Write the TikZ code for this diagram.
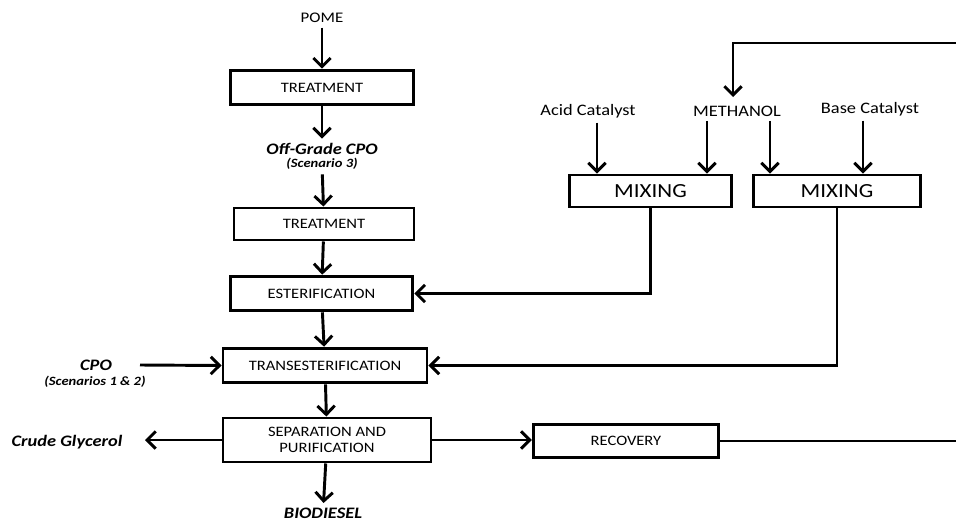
\documentclass[tikz,border=0pt]{standalone}
\usepackage{fontspec}
\setmainfont[FakeStretch=1.15]{Carlito}
\usetikzlibrary{arrows.meta,positioning}

\tikzset{
  stage/.style={draw, line width=2.2pt, inner sep=0pt, align=center, font=\fontsize{10.8}{12.5}\selectfont},
  flow/.style={line width=2.2pt, -{Straight Barb[length=6.5pt,width=13pt]}},
  pipe/.style={line width=1.7pt},
  feed/.style={font=\fontsize{12}{14}\selectfont},
  product/.style={font=\bfseries\itshape\fontsize{12}{14}\selectfont},
  note/.style={font=\bfseries\itshape\fontsize{9.5}{11}\selectfont}
}

\begin{document}
\begin{tikzpicture}[x=0.75pt, y=-0.75pt]
    \useasboundingbox (0,0) rectangle (956,521);
    \clip (0,0) rectangle (956,521);

    % main line
    \node[font=\fontsize{11}{13}\selectfont] (pome) at (322,18) {POME};
    \node[stage, minimum width=137pt, minimum height=26pt] (treat1) at (322,87.5) {TREATMENT};
    \node[product] (offcpo) at (322,149) {Off-Grade CPO};
    \node[note] (scen3) at (322,164) {(Scenario 3)};
    \node[stage, minimum width=135pt, minimum height=24pt] (treat2) at (324,224) {TREATMENT};
    \node[stage, minimum width=137pt, minimum height=26pt] (ester) at (321.5,293.5) {ESTERIFICATION};
    \node[stage, minimum width=153pt, minimum height=26pt] (trans) at (325,365.5) {TRANSESTERIFICATION};
    \node[stage, minimum width=156pt, minimum height=33pt] (sep) at (327,440) {SEPARATION AND\\PURIFICATION};
    \node[product] (biod) at (323,513) {BIODIESEL};

    % side streams
    \node[product] (cpo) at (96,365) {CPO};
    \node[note] (scen12) at (95,382) {(Scenarios 1 \& 2)};
    \node[product] (glyc) at (67,442) {Crude Glycerol};
    \node[stage, minimum width=139pt, minimum height=25pt] (recov) at (626,441) {RECOVERY};

    % catalyst preparation
    \node[feed] (acid) at (588,111) {Acid Catalyst};
    \node[feed] (meoh) at (737,111) {METHANOL};
    \node[feed] (base) at (870,109) {Base Catalyst};
    \node[stage, minimum width=122pt, minimum height=24pt, font=\fontsize{15}{17}\selectfont] (mixA) at (650.5,191) {MIXING};
    \node[stage, minimum width=125pt, minimum height=24pt, font=\fontsize{15}{17}\selectfont] (mixB) at (837,191) {MIXING};

    \coordinate (cpoS) at (140,365);
    \coordinate (glycE) at (145,440);
    \coordinate (loopB) at (960,441);
    \coordinate (loopT) at (960,43);
    \coordinate (meohIn) at (733,97);

    % arrows
    \draw[flow] (pome) -- (treat1);
    \draw[flow] (treat1) -- (offcpo);
    \draw[flow] (scen3) -- (treat2);
    \draw[flow] (treat2) -- (ester);
    \draw[flow] (ester) -- (trans);
    \draw[flow] (trans) -- (sep);
    \draw[flow] (sep) -- (biod);
    \draw[flow] (cpoS) -- (trans.west);
    \draw[flow] (sep.west) -- (glycE);
    \draw[flow] (sep.east) -- (sep.east -| recov.west);

    \draw[flow] ([xshift=6.75pt]acid.south) -- ([xshift=6.75pt]acid.south |- mixA.north);
    \draw[flow] ([xshift=-22.5pt]meoh.south) -- ([xshift=-22.5pt]meoh.south |- mixA.north);
    \draw[flow] ([xshift=24.75pt]meoh.south) -- ([xshift=24.75pt]meoh.south |- mixB.north);
    \draw[flow] ([xshift=-5.25pt]base.south) -- ([xshift=-5.25pt]base.south |- mixB.north);

    \draw[flow] (mixA.south) |- (ester.east);
    \draw[flow] (mixB.south) |- (trans.east);

    % methanol recycle
    \draw[pipe] (recov.east) -- (loopB) -- (loopT);
    \draw[flow] (loopT) -| (meohIn);
\end{tikzpicture}
\end{document}
